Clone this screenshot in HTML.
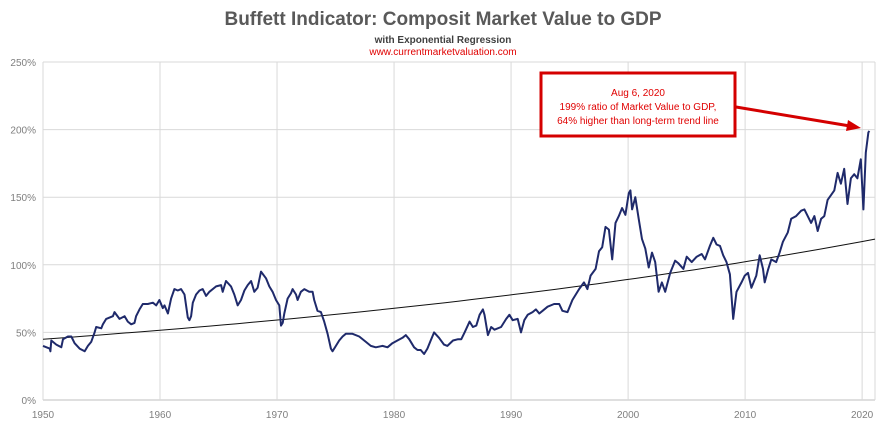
<!DOCTYPE html>
<html><head><meta charset="utf-8"><style>
html,body{margin:0;padding:0;background:#fff;}
svg{display:block;font-family:"Liberation Sans",sans-serif;}
</style></head><body>
<svg id="chart" width="886" height="428" viewBox="0 0 886 428">
<text x="443" y="25" text-anchor="middle" font-size="19" font-weight="bold" fill="#595959">Buffett Indicator: Composit Market Value to GDP</text>
<text x="443" y="43" text-anchor="middle" font-size="10" font-weight="600" fill="#404040">with Exponential Regression</text>
<text x="443" y="55" text-anchor="middle" font-size="10" fill="#e00000">www.currentmarketvaluation.com</text>
<g id="grid"></g><g id="yticks"></g><g id="xticks"></g>
<path id="trend" fill="none" stroke="#111" stroke-width="1"/>
<path id="series" fill="none" stroke="#1f2a6b" stroke-width="2" stroke-linejoin="round"/>
<g>
<rect x="541" y="73" width="194" height="63" fill="#fff" stroke="#d40000" stroke-width="3"/>
<text x="638" y="96" text-anchor="middle" font-size="10" fill="#e00000">Aug 6, 2020</text>
<text x="638" y="110" text-anchor="middle" font-size="10" fill="#e00000">199% ratio of Market Value to GDP,</text>
<text x="638" y="124" text-anchor="middle" font-size="10" fill="#e00000">64% higher than long-term trend line</text>
<line x1="736" y1="107" x2="850" y2="126" stroke="#d40000" stroke-width="3"/>
<polygon points="861,128 848,120 846,131" fill="#d40000"/>
</g>
</svg>
<script>
const years=[1950.0,1950.57,1950.63,1950.71,1951.14,1951.56,1951.71,1952.13,1952.42,1952.70,1953.13,1953.56,1953.84,1954.12,1954.41,1954.55,1954.98,1955.12,1955.40,1955.97,1956.11,1956.54,1956.97,1957.25,1957.54,1957.82,1957.96,1958.25,1958.53,1958.96,1959.39,1959.67,1959.95,1960.24,1960.38,1960.67,1960.95,1961.23,1961.52,1961.80,1962.09,1962.37,1962.51,1962.66,1962.80,1963.08,1963.37,1963.65,1963.94,1964.22,1964.79,1965.22,1965.36,1965.64,1966.07,1966.35,1966.64,1966.92,1967.21,1967.49,1967.78,1968.06,1968.34,1968.63,1969.06,1969.34,1969.62,1969.91,1970.19,1970.34,1970.48,1970.62,1970.90,1971.19,1971.33,1971.62,1971.76,1972.04,1972.33,1972.75,1973.04,1973.18,1973.46,1973.75,1974.03,1974.32,1974.60,1974.74,1975.03,1975.31,1975.60,1975.88,1976.45,1977.02,1977.59,1978.01,1978.44,1979.01,1979.44,1979.86,1980.29,1980.72,1981.00,1981.29,1981.71,1982.00,1982.28,1982.57,1982.85,1983.13,1983.42,1983.84,1984.27,1984.56,1985.04,1985.47,1985.75,1986.03,1986.46,1986.74,1987.03,1987.31,1987.59,1987.73,1988.02,1988.30,1988.58,1989.15,1989.58,1989.86,1990.14,1990.57,1990.85,1991.13,1991.42,1991.84,1992.12,1992.41,1992.69,1993.12,1993.68,1994.11,1994.39,1994.82,1995.24,1995.81,1996.23,1996.52,1996.80,1997.22,1997.51,1997.79,1998.07,1998.36,1998.64,1998.92,1999.21,1999.49,1999.77,2000.06,2000.20,2000.34,2000.62,2000.91,2001.19,2001.47,2001.76,2002.04,2002.32,2002.61,2002.89,2003.17,2003.60,2004.02,2004.31,2004.73,2005.01,2005.44,2005.86,2006.29,2006.57,2006.99,2007.28,2007.56,2007.85,2008.13,2008.41,2008.70,2008.98,2009.26,2009.69,2009.97,2010.25,2010.54,2010.96,2011.25,2011.53,2011.67,2011.95,2012.24,2012.66,2012.95,2013.23,2013.65,2013.94,2014.36,2014.79,2015.07,2015.35,2015.64,2015.92,2016.20,2016.49,2016.77,2017.05,2017.62,2017.90,2018.19,2018.47,2018.75,2019.04,2019.32,2019.60,2019.89,2020.11,2020.31,2020.54,2020.62];
const ratios=[40,38,36,44,41,39,45,47,47,42,38,36,40,43,50,54,53,56,60,62,65,60,62,58,56,57,62,67,71,71,72,70,74,68,70,64,75,82,81,82,78,61,59,62,72,78,81,82,77,80,84,85,80,88,84,78,70,74,81,85,88,80,83,95,90,84,80,74,70,55,57,64,75,79,82,78,74,80,82,80,80,74,66,65,58,49,38,36,40,44,47,49,49,47,43,40,39,40,39,42,44,46,48,45,39,37,37,34,38,44,50,46,41,40,44,45,45,50,58,54,55,63,67,63,48,54,52,54,60,63,59,60,50,59,63,65,67,64,66,69,71,71,66,65,74,82,87,82,92,97,110,113,128,126,104,131,136,142,137,153,155,141,150,134,119,112,98,109,102,80,87,80,94,103,101,97,106,102,106,108,104,114,120,115,114,107,102,93,60,80,87,92,94,83,92,107,97,87,96,104,102,109,117,124,134,136,140,141,136,131,136,125,134,136,148,155,168,160,171,145,164,167,164,178,141,183,198,199];
const xTicks=[1950,1960,1970,1980,1990,2000,2010,2020];
const yTicks=[0,50,100,150,200,250];
const trendStart=[1950,45];
const trendEnd=[2021.1,119];
const X0=43,X1=875,Y0=400,Y1=62,XMIN=1950,XMAX=2021.1,YMAX=250;
const sx=v=>X0+(v-XMIN)/(XMAX-XMIN)*(X1-X0);
const sy=v=>Y0-v/YMAX*(Y0-Y1);
const NS="http://www.w3.org/2000/svg";
const grid=document.getElementById('grid'),yt=document.getElementById('yticks'),xt=document.getElementById('xticks');
yTicks.forEach(t=>{
 const l=document.createElementNS(NS,'line');
 l.setAttribute('x1',X0);l.setAttribute('x2',X1);l.setAttribute('y1',sy(t));l.setAttribute('y2',sy(t));
 l.setAttribute('stroke',t===0?'#bfbfbf':'#d9d9d9');l.setAttribute('stroke-width','1');
 
 
 grid.appendChild(l);
 const tx=document.createElementNS(NS,'text');
 tx.setAttribute('x',36);tx.setAttribute('y',sy(t)+4);tx.setAttribute('text-anchor','end');
 tx.setAttribute('font-size','10');tx.setAttribute('fill','#7f7f7f');tx.textContent=t+'%';
 
 
 yt.appendChild(tx);
});
xTicks.forEach(t=>{
 const l=document.createElementNS(NS,'line');
 l.setAttribute('x1',sx(t));l.setAttribute('x2',sx(t));l.setAttribute('y1',Y1);l.setAttribute('y2',Y0);
 l.setAttribute('stroke','#d9d9d9');l.setAttribute('stroke-width','1');
 
 
 grid.appendChild(l);
 const tx=document.createElementNS(NS,'text');
 tx.setAttribute('x',sx(t));tx.setAttribute('y',418);tx.setAttribute('text-anchor','middle');
 tx.setAttribute('font-size','10');tx.setAttribute('fill','#7f7f7f');tx.textContent=t;
 
 
 xt.appendChild(tx);
});
const rl=document.createElementNS(NS,'line');
rl.setAttribute('x1',X1);rl.setAttribute('x2',X1);rl.setAttribute('y1',Y1);rl.setAttribute('y2',Y0);
rl.setAttribute('stroke','#d9d9d9');


grid.appendChild(rl);
document.getElementById('series').setAttribute('d',years.map((y,i)=>(i?'L':'M')+sx(y).toFixed(1)+','+sy(ratios[i]).toFixed(1)).join(''));
const k=Math.log(trendEnd[1]/trendStart[1])/(trendEnd[0]-trendStart[0]);
let td='';
for(let i=0;i<=60;i++){const yr=trendStart[0]+(trendEnd[0]-trendStart[0])*i/60;td+=(i?'L':'M')+sx(yr).toFixed(1)+','+sy(trendStart[1]*Math.exp(k*(yr-trendStart[0]))).toFixed(1);}
document.getElementById('trend').setAttribute('d',td);
</script>
</body></html>
